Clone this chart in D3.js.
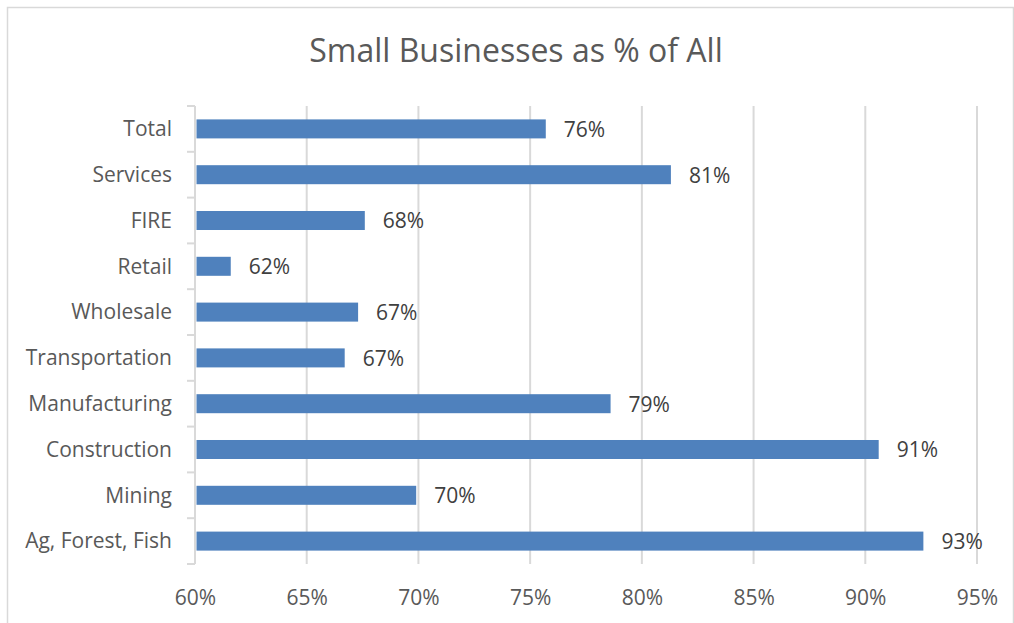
<!DOCTYPE html>
<html>
<head>
<meta charset="utf-8">
<script src="https://cdn.jsdelivr.net/npm/d3@7"></script>
<style>
  html, body { margin: 0; padding: 0; background: #fff; }
  svg { display: block; }
</style>
</head>
<body>
<svg id="chart" width="1014" height="623"></svg>
<script>
// Share of establishments that are small businesses, by sector
const categories = ["Total", "Services", "FIRE", "Retail", "Wholesale",
  "Transportation", "Manufacturing", "Construction", "Mining", "Ag, Forest, Fish"];
const shares = [75.7, 81.3, 67.6, 61.6, 67.3, 66.7, 78.6, 90.6, 69.9, 92.6];
const xTicks = [60, 65, 70, 75, 80, 85, 90, 95];
const title = "Small Businesses as % of All";

const font = "'Open Sans', sans-serif";
const labelSize = 21;
const svg = d3.select("#chart");
const W = 1014, H = 623;

// chart frame
svg.append("rect")
  .attr("x", 7.5).attr("y", 7.5)
  .attr("width", W - 8).attr("height", H)
  .attr("fill", "#fff").attr("stroke", "#d9d9d9").attr("stroke-width", 1.5);

const plot = { left: 195, right: 977, top: 106, bottom: 564 };

const x = d3.scaleLinear().domain([60, 95]).range([plot.left, plot.right]);
const y = d3.scaleBand().domain(categories)
  .range([plot.top, plot.bottom]).paddingInner(0.585).paddingOuter(0.2925);
const yStep = d3.scaleBand().domain(categories).range([plot.top, plot.bottom]);

// title
svg.append("text")
  .attr("x", 516).attr("y", 62)
  .attr("text-anchor", "middle")
  .attr("font-family", font).attr("font-size", 32)
  .attr("fill", "#595959")
  .text(title);

// vertical gridlines
svg.append("g")
  .selectAll("line")
  .data(xTicks.filter(t => t > 60))
  .join("line")
  .attr("x1", d => x(d)).attr("x2", d => x(d))
  .attr("y1", plot.top).attr("y2", plot.bottom)
  .attr("stroke", "#d9d9d9").attr("stroke-width", 2);

// x axis tick labels
const xAxis = d3.axisBottom(x).tickValues(xTicks).tickSize(0).tickPadding(0)
  .tickFormat(d => d + "%");
const gx = svg.append("g").attr("transform", `translate(0,${plot.bottom})`).call(xAxis);
gx.select(".domain").remove();
gx.selectAll("text")
  .attr("y", 41).attr("dy", 0)
  .attr("font-family", font).attr("font-size", labelSize).attr("fill", "#595959");

// y axis with outward ticks between categories
const gy = svg.append("g").attr("transform", `translate(${plot.left},0)`);
gy.append("line")
  .attr("x1", 0).attr("x2", 0).attr("y1", plot.top).attr("y2", plot.bottom)
  .attr("stroke", "#d9d9d9").attr("stroke-width", 2);
const boundaries = categories.map(c => yStep(c)).concat([plot.bottom]);
gy.selectAll("line.tick")
  .data(boundaries)
  .join("line").attr("class", "tick")
  .attr("x1", -8).attr("x2", 0)
  .attr("y1", d => d).attr("y2", d => d)
  .attr("stroke", "#d9d9d9").attr("stroke-width", 2);
gy.selectAll("text")
  .data(categories)
  .join("text")
  .attr("x", -23)
  .attr("y", d => y(d) + y.bandwidth() / 2)
  .attr("dy", "0.35em")
  .attr("text-anchor", "end")
  .attr("font-family", font).attr("font-size", labelSize).attr("fill", "#595959")
  .text(d => d);

// bars
const data = categories.map((c, i) => ({ c, v: shares[i] }));
svg.append("g")
  .selectAll("rect")
  .data(data)
  .join("rect")
  .attr("x", x(60) + 1.5)
  .attr("y", d => y(d.c))
  .attr("width", d => x(d.v) - x(60) - 1.5)
  .attr("height", y.bandwidth())
  .attr("fill", "#4F81BD");

// value labels
const fmt = d3.format(".0f");
svg.append("g")
  .selectAll("text")
  .data(data)
  .join("text")
  .attr("x", d => x(d.v) + 18)
  .attr("y", d => y(d.c) + y.bandwidth() / 2)
  .attr("dy", "0.38em")
  .attr("font-family", font).attr("font-size", labelSize).attr("fill", "#404040")
  .text(d => fmt(d.v) + "%");
</script>
</body>
</html>
